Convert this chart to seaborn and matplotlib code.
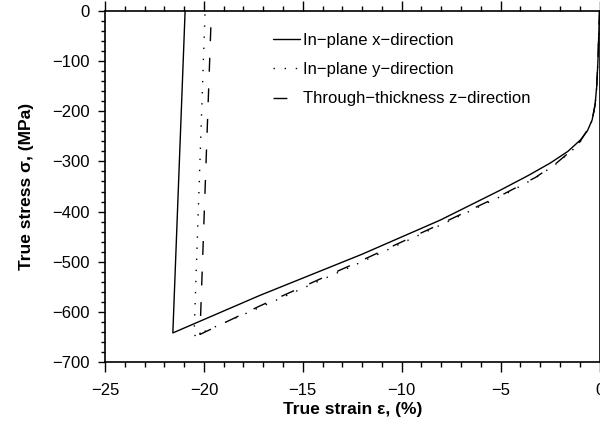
import matplotlib
matplotlib.use("Agg")
import matplotlib.pyplot as plt
from matplotlib.ticker import MultipleLocator
from matplotlib.lines import Line2D
import seaborn as sns
import pandas as pd

# ---- data ----
x_strain = [0, -0.03, -0.08, -0.14, -0.22, -0.37, -0.6, -0.96, -1.6, -2.48, -3.6, -5.0, -8.05, -12.0, -17.16, -21.57, -20.95]
x_stress = [0, -40, -100, -150, -185, -217, -238, -257, -280, -303, -328, -357, -417, -485, -567, -642, 0]

y_strain = [0, -0.03, -0.08, -0.14, -0.22, -0.37, -0.62, -0.96, -1.38, -2.23, -3.24, -4.84, -8.05, -12.0, -17.16, -20.5, -19.94]
y_stress = [0, -40, -100, -152, -188, -219, -239, -260, -278, -306, -333, -367, -427, -500, -591, -648, 0]

z_strain = [0, -0.03, -0.08, -0.14, -0.22, -0.37, -0.62, -0.96, -1.38, -2.23, -3.24, -4.84, -8.05, -12.0, -17.16, -20.2, -19.62]
z_stress = [0, -40, -100, -151, -187, -218, -238, -259, -277, -305, -332, -365, -425, -497, -588, -645, 0]

labels = ["In\u2212plane x\u2212direction", "In\u2212plane y\u2212direction", "Through\u2212thickness z\u2212direction"]
x_ticks = [-25, -20, -15, -10, -5, 0]
y_ticks = [-700, -600, -500, -400, -300, -200, -100, 0]

sns.set_style("ticks")
plt.rcParams["font.family"] = ["Liberation Sans", "DejaVu Sans"]
plt.rcParams["text.color"] = "black"
plt.rcParams["axes.labelcolor"] = "black"
plt.rcParams["xtick.color"] = "black"
plt.rcParams["ytick.color"] = "black"

fig = plt.figure(figsize=(6.0, 4.34), dpi=100)
ax = fig.add_axes([105 / 600, 1 - 362 / 434, 494.5 / 600, 351 / 434])

styles = ["-", (0, (1, 7)), (0, (10, 12))]
series = [(x_strain, x_stress), (y_strain, y_stress), (z_strain, z_stress)]
for (sx, sy), ls, lab in zip(series, styles, labels):
    df = pd.DataFrame({"strain": sx, "stress": sy})
    sns.lineplot(data=df, x="strain", y="stress", sort=False, estimator=None,
                 color="black", linewidth=1.0, linestyle=ls, ax=ax, legend=False)

ax.set_xlim(-25, 0)
ax.set_ylim(-700, 0)
ax.set_xticks(x_ticks)
ax.set_yticks(y_ticks)
ax.xaxis.set_minor_locator(MultipleLocator(1))
ax.yaxis.set_minor_locator(MultipleLocator(20))

for sp in ax.spines.values():
    sp.set_visible(True)
    sp.set_linewidth(1.2)
    sp.set_color("black")

ax.tick_params(axis="x", which="major", direction="out", top=True, bottom=True,
               length=7, width=1.0, labelsize=12, pad=8, colors="black")
ax.tick_params(axis="x", which="minor", direction="out", top=True, bottom=True,
               length=3.5, width=1.0)
ax.tick_params(axis="y", which="major", direction="out", left=True, right=False,
               length=5, width=1.0, labelsize=12, pad=6, colors="black")
ax.tick_params(axis="y", which="minor", direction="out", left=True, right=False,
               length=3, width=1.0)

ax.set_xlabel("True strain \u03b5, (%)", fontsize=12.5, fontweight="bold", labelpad=3)
ax.set_ylabel("True stress \u03c3, (MPa)", fontsize=12.5, fontweight="bold", labelpad=13)

handles = [Line2D([], [], color="black", linewidth=1.0, linestyle=s) for s in styles]
ax.legend(handles, labels, loc="upper left", bbox_to_anchor=(0.34, 0.937),
          frameon=False, fontsize=12, handlelength=1.62, handletextpad=0.2,
          labelspacing=0.85, borderpad=0, borderaxespad=0)

fig.savefig("out.png", dpi=100)
